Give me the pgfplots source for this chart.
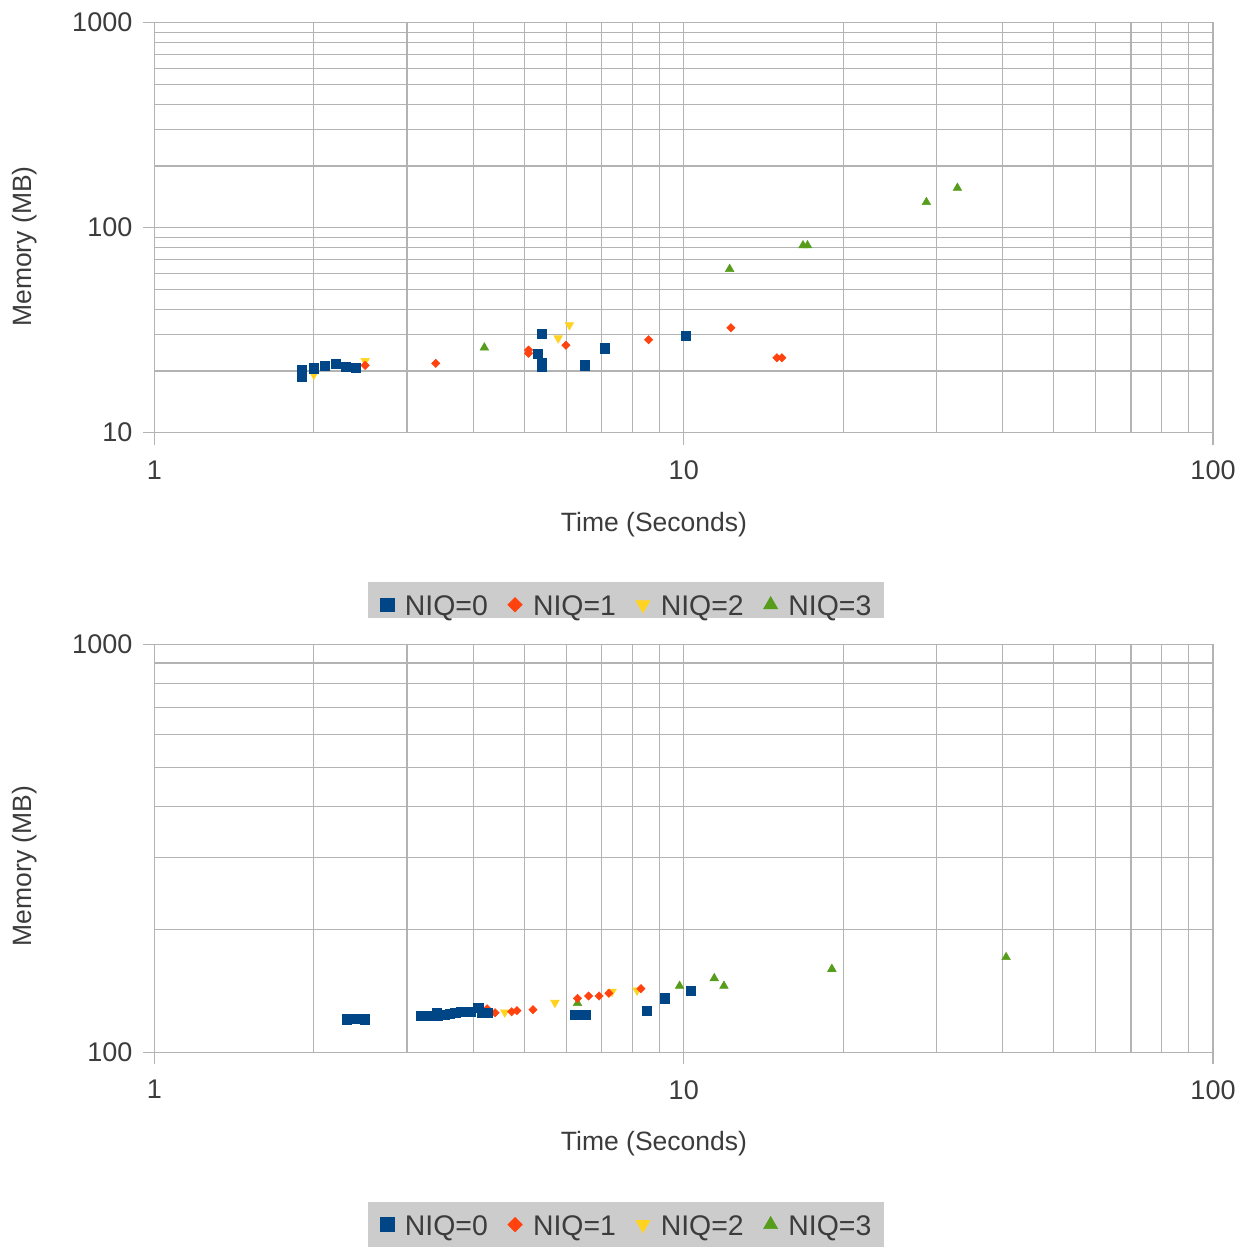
\documentclass[border=0pt]{standalone}
\usepackage{fontspec}
\setmainfont{Liberation Sans}
\usepackage{pgfplots}
\pgfplotsset{compat=1.18}
\definecolor{c0}{HTML}{004586}
\definecolor{c1}{HTML}{FF420E}
\definecolor{c2}{HTML}{FFD320}
\definecolor{c3}{HTML}{579D1C}
\definecolor{gridgray}{HTML}{B3B3B3}
\definecolor{txt}{HTML}{3C3C3C}
\definecolor{leggray}{HTML}{CCCCCC}

\pgfplotsset{
  legend image code/.code={\draw[#1] plot coordinates {(0pt,5.5pt)};},
  p0/.style={only marks, color=c0, mark=square*, mark size=2.3pt, line width=0.3pt,
    legend image post style={mark size=3.45pt}},
  p1/.style={only marks, color=c1, mark=square*, mark size=1.45pt, line width=0.3pt,
    mark options={rotate=45}, legend image post style={mark size=2.55pt}},
  p2/.style={only marks, color=c2, mark=triangle*, mark size=2.45pt, line width=0.3pt,
    mark options={rotate=180}, legend image post style={mark size=4.05pt}},
  p3/.style={only marks, color=c3, mark=triangle*, mark size=2.45pt, line width=0.3pt,
    legend image post style={mark size=4.05pt}},
}

\begin{document}
\begin{tikzpicture}
\useasboundingbox (0,0) rectangle (620.5pt,623.5pt);

% ---------------- top chart ----------------
\begin{axis}[
    at={(77.25pt,407.15pt)}, anchor=south west,
    scale only axis, width=529.25pt, height=205pt,
    xmode=log, ymode=log, xmin=1, xmax=100, ymin=10, ymax=1000,
    xtick={1,10,100}, xticklabels={1,10,100},
    minor xtick={2,3,4,5,6,7,8,9,20,30,40,50,60,70,80,90},
    ytick={10,100,1000}, yticklabels={10,100,1000},
    minor ytick={20,30,40,50,60,70,80,90,200,300,400,500,600,700,800,900},
    grid=both,
    major grid style={gridgray, line width=0.55pt},
    minor grid style={gridgray, line width=0.55pt},
    axis line style={gridgray, line width=0.55pt},
    tick style={gridgray, line width=0.55pt},
    tick align=outside, tick pos=left,
    major tick length=6pt, minor tick length=0pt,
    tick label style={font=\fontsize{13.5}{14}\selectfont, text=txt, inner sep=0pt},
    xticklabel style={anchor=north},
    yticklabel style={anchor=east},
    xticklabel shift=7.85pt, yticklabel shift=4.9pt,
    label style={font=\fontsize{13.25}{14}\selectfont, text=txt, inner sep=0pt},
    xlabel={Time (Seconds)}, ylabel={Memory (MB)},
    xlabel style={at={(axis description cs:0.4719,-0.2398)}, anchor=base},
    ylabel style={at={(axis description cs:-0.1225,0.4541)}, anchor=center},
    legend columns=4, reverse legend,
    legend style={at={(axis description cs:0.2013,-0.3637)},
      anchor=north west, fill=leggray, draw=none,
      inner xsep=6.2pt, inner ysep=0pt,
      font=\fontsize{14.2}{16}\selectfont, text=txt,
      /tikz/every odd column/.style={column sep=5.4pt},
      /tikz/every even column/.style={column sep=10pt},
      cells={anchor=base west},
      nodes={inner sep=0pt, anchor=base west, text height=16.75pt, text depth=1.35pt}},
]
\addplot[p3] table {
x y
4.20 26.0
12.21 62.8
16.80 81.9
17.13 81.9
28.74 133.1
32.89 156.2
};
\addlegendentry{NIQ=3}
\addplot[p2] table {
x y
2.00 19.2
2.50 22.4
5.79 28.9
6.08 33.5
};
\addlegendentry{NIQ=2}
\addplot[p1] table {
x y
2.50 21.3
3.40 21.8
5.09 25.3
5.09 24.4
5.99 26.7
8.58 28.4
12.28 32.5
15.00 23.2
15.33 23.2
};
\addlegendentry{NIQ=1}
\addplot[p0] table {
x y
1.90 20.2
1.90 18.8
2.00 20.6
2.10 21.2
2.20 21.6
2.30 20.9
2.40 20.8
5.30 24.2
5.40 30.3
5.40 21.8
5.40 21.0
6.50 21.3
7.09 25.8
10.08 29.7
};
\addlegendentry{NIQ=0}
\end{axis}

% ---------------- bottom chart ----------------
\begin{axis}[
    at={(77.25pt,97.35pt)}, anchor=south west,
    scale only axis, width=529.25pt, height=204pt,
    xmode=log, ymode=log, xmin=1, xmax=100, ymin=100, ymax=1000,
    xtick={1,10,100}, xticklabels={1,10,100},
    minor xtick={2,3,4,5,6,7,8,9,20,30,40,50,60,70,80,90},
    ytick={100,1000}, yticklabels={100,1000},
    minor ytick={200,300,400,500,600,700,800,900},
    grid=both,
    major grid style={gridgray, line width=0.55pt},
    minor grid style={gridgray, line width=0.55pt},
    axis line style={gridgray, line width=0.55pt},
    tick style={gridgray, line width=0.55pt},
    tick align=outside, tick pos=left,
    major tick length=6pt, minor tick length=0pt,
    tick label style={font=\fontsize{13.5}{14}\selectfont, text=txt, inner sep=0pt},
    xticklabel style={anchor=north},
    yticklabel style={anchor=east},
    xticklabel shift=7.85pt, yticklabel shift=4.9pt,
    label style={font=\fontsize{13.25}{14}\selectfont, text=txt, inner sep=0pt},
    xlabel={Time (Seconds)}, ylabel={Memory (MB)},
    xlabel style={at={(axis description cs:0.4719,-0.2412)}, anchor=base},
    ylabel style={at={(axis description cs:-0.1225,0.4566)}, anchor=center},
    legend columns=4, reverse legend,
    legend style={at={(axis description cs:0.2013,-0.3662)},
      anchor=north west, fill=leggray, draw=none,
      inner xsep=6.2pt, inner ysep=0pt,
      font=\fontsize{14.2}{16}\selectfont, text=txt,
      /tikz/every odd column/.style={column sep=5.4pt},
      /tikz/every even column/.style={column sep=10pt},
      cells={anchor=base west},
      nodes={inner sep=0pt, anchor=base west, text height=16.75pt, text depth=6pt}},
]
\addplot[p3] table {
x y
6.30 131.9
9.82 145.4
11.42 151.8
11.91 145.4
19.05 160.0
40.65 171.0
};
\addlegendentry{NIQ=3}
\addplot[p2] table {
x y
4.59 125.3
5.71 132.3
7.32 140.8
8.16 141.8
};
\addlegendentry{NIQ=2}
\addplot[p1] table {
x y
4.25 127.8
4.40 125.0
4.73 125.7
4.84 126.5
5.19 127.2
6.30 135.6
6.61 137.4
6.92 137.4
7.22 139.5
8.30 143.2
};
\addlegendentry{NIQ=1}
\addplot[p0] table {
x y
2.305 120.5
2.366 120.7
2.428 120.7
2.493 120.5
3.19 122.7
3.25 122.7
3.32 123.1
3.41 124.8
3.43 122.7
3.53 123.4
3.62 124.1
3.70 124.8
3.79 125.5
3.88 125.9
3.95 125.9
4.09 128.4
4.15 125.2
4.27 125.2
6.24 123.6
6.52 123.4
8.51 126.5
9.21 135.6
10.30 141.3
};
\addlegendentry{NIQ=0}
\end{axis}
\end{tikzpicture}
\end{document}
